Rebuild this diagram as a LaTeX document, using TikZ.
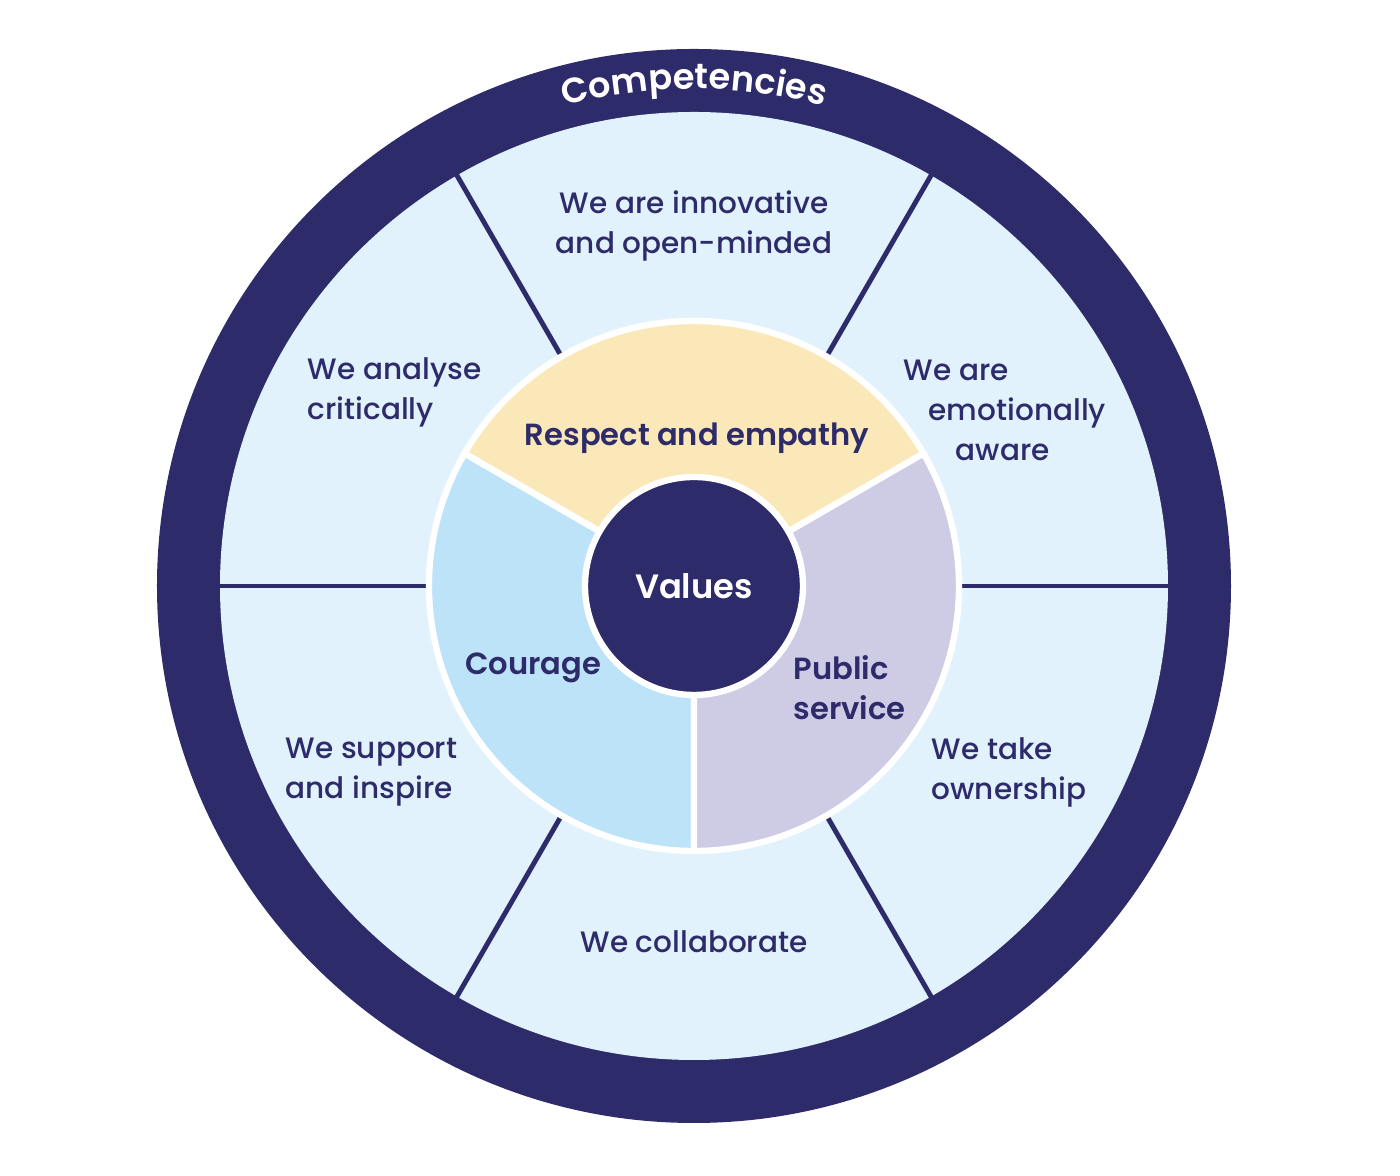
\documentclass[tikz,border=0pt]{standalone}
\usepackage{fontspec}
\setmainfont{Poppins}[UprightFont=* Medium,BoldFont=* SemiBold]
\usepackage{xcolor}
\usepackage{tikz}
\usetikzlibrary{decorations.text}
\usetikzlibrary{positioning}

\definecolor{navy}{HTML}{2E2B6A}
\definecolor{pale}{HTML}{E1F2FD}
\definecolor{cream}{HTML}{FBE8B9}
\definecolor{sky}{HTML}{BDE3F9}
\definecolor{lilac}{HTML}{CECBE5}

\begin{document}
\begin{tikzpicture}[spoke/.style={navy,line width=1.4pt},sector/.style={draw=white,line width=1.8pt},
    comp/.style={text=navy,font=\fontsize{8.4}{11.4}\selectfont,inner sep=0pt},
    val/.style={text=navy,font=\fontsize{8.7}{11.4}\selectfont\bfseries,inner sep=0pt}]
            \useasboundingbox (-6.94,-5.90) rectangle (7.06,5.86);
            \fill[navy] (0,0) circle (5.37);
            \fill[pale] (0,0) circle (4.74);
            \foreach \a in {0,60,...,300}
              \draw[spoke] (\a:2.6) -- (\a:4.76);
            \filldraw[sector,fill=cream] (0,0) -- (30:2.65) arc (30:150:2.65) -- cycle;
            \filldraw[sector,fill=sky] (0,0) -- (150:2.65) arc (150:270:2.65) -- cycle;
            \filldraw[sector,fill=lilac] (0,0) -- (270:2.65) arc (270:390:2.65) -- cycle;
            \node[circle,fill=navy,draw=white,line width=1.8pt,minimum size=2.18cm,text=white,
              font=\fontsize{9.6}{12}\selectfont\bfseries] (values) at (0,0) {Values};
            \path[decorate,decoration={text along path,text align=center,text color=white,
                text={|\fontsize{10}{12}\selectfont\bfseries|Competencies}}] (150:4.97) arc (150:30:4.97);
            \begin{scope}[every node/.style=comp]
              \node[align=center] (innov) at (0,3.60) {We are innovative\\and open-minded};
              \node[align=left,anchor=west] (analyse) at (-3.87,1.94) {We analyse\\critically};
              \node[align=left,anchor=west] (aware) at (2.09,1.76) {We are\\\hspace{0.25cm}emotionally\\\hspace{0.52cm}aware};
              \node[align=left,anchor=west] (support) at (-4.09,-1.86) {We support\\and inspire};
              \node[align=left,anchor=west] (owner) at (2.37,-1.86) {We take\\ownership};
              \node (collab) at (0,-3.56) {We collaborate};
            \end{scope}
            \begin{scope}[every node/.style=val]
              \node (respect) at (0.03,1.48) {Respect and empathy};
              \node (courage) at (-1.61,-0.82) {Courage};
              \node[align=left,anchor=west] (public) at (0.99,-1.02) {Public\\service};
            \end{scope}
          \end{tikzpicture}
\end{document}
